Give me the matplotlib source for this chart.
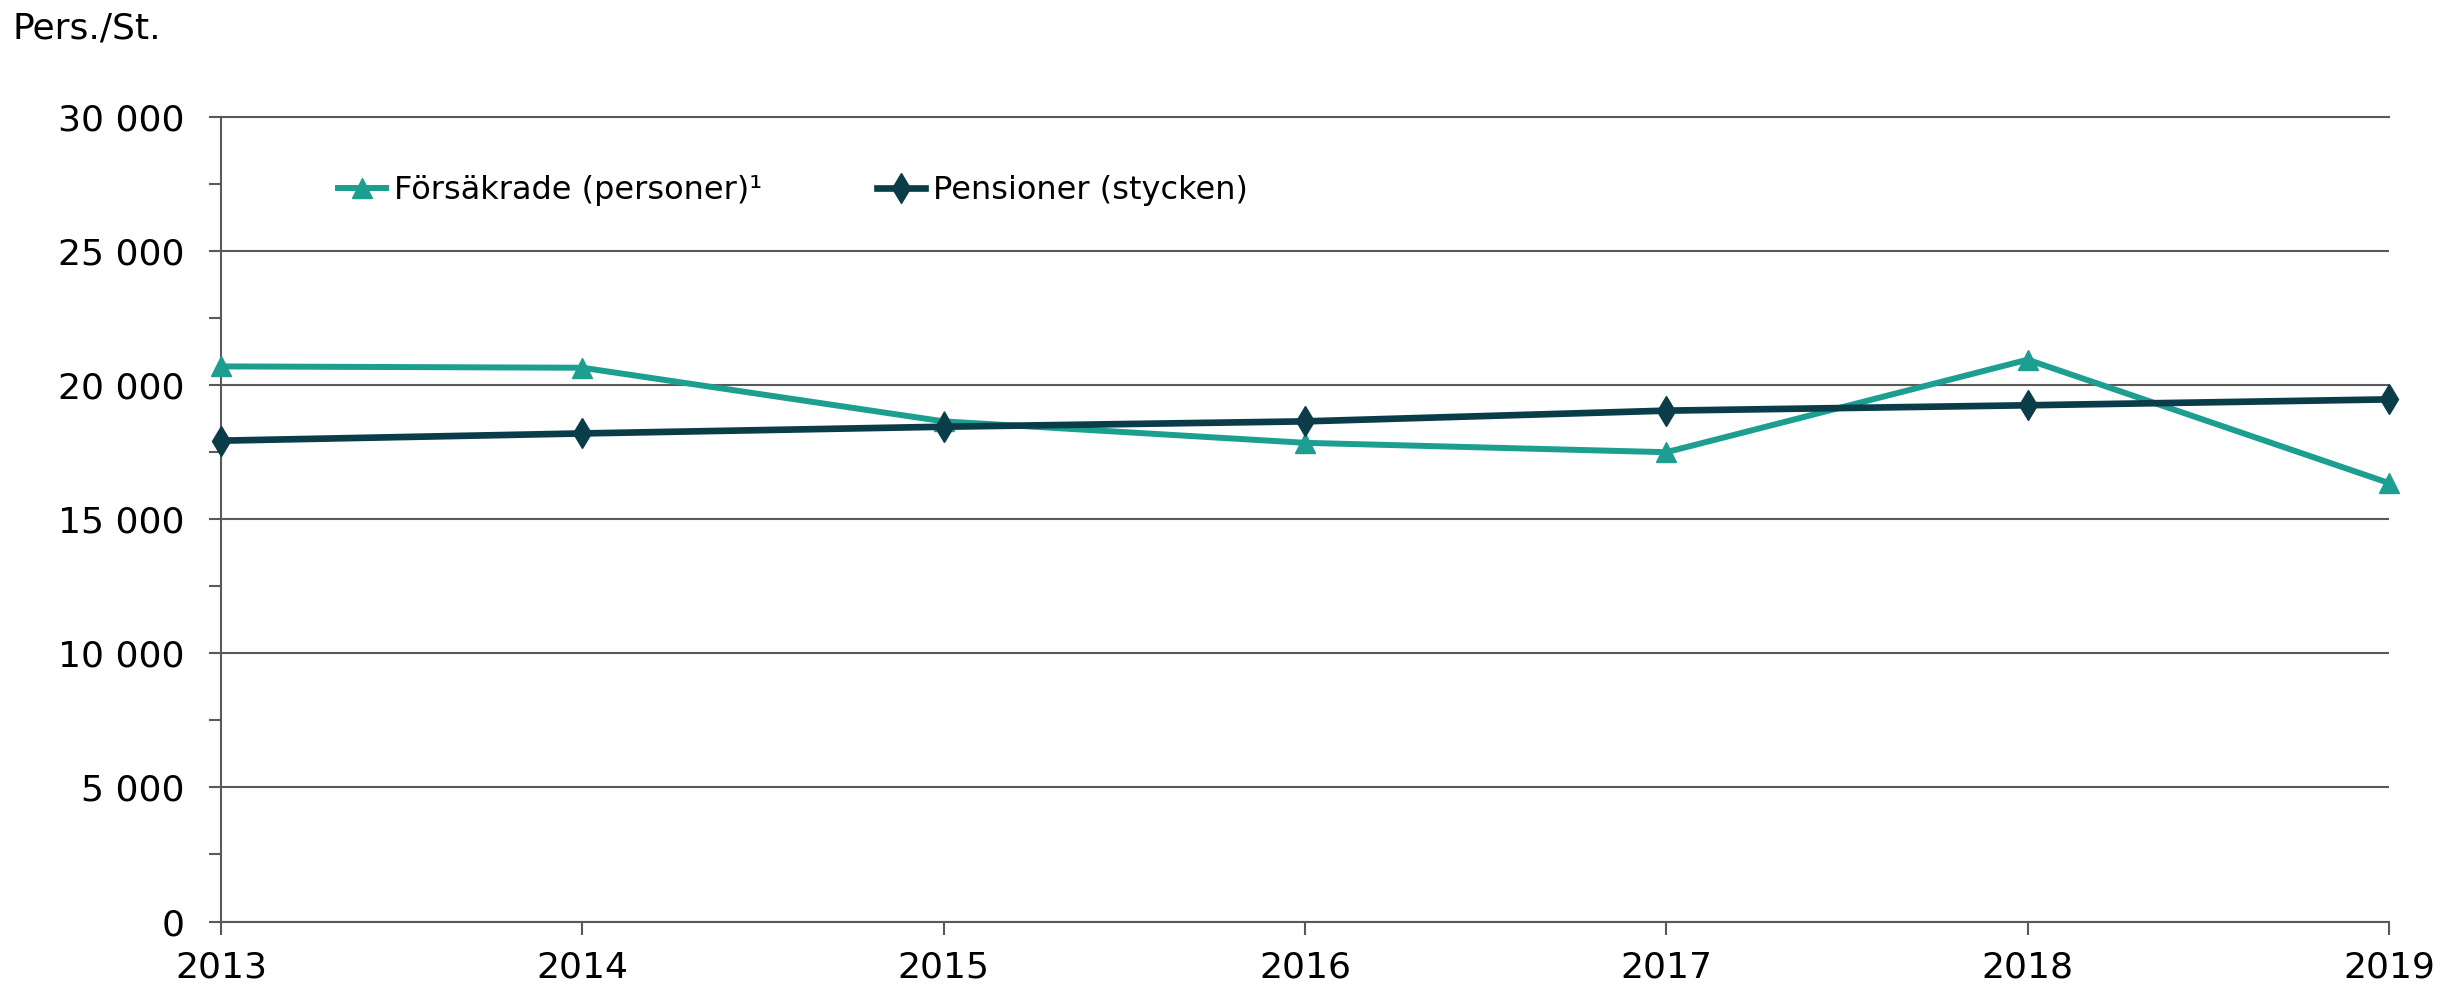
import matplotlib
matplotlib.use("Agg")
import matplotlib.pyplot as plt
from matplotlib.ticker import MultipleLocator, FuncFormatter

years = [2013, 2014, 2015, 2016, 2017, 2018, 2019]
forsakrade = [20700, 20650, 18650, 17850, 17500, 20950, 16350]
pensioner = [17930, 18200, 18450, 18650, 19050, 19250, 19470]
label_forsakrade = "Försäkrade (personer)¹"
label_pensioner = "Pensioner (stycken)"
y_label = "Pers./St."

teal = "#1C9E91"
dark = "#0B3C49"
gridc = "#595959"

plt.rcParams['font.family'] = ['DejaVu Sans']

fig = plt.figure(figsize=(24.45, 9.88), dpi=100)
ax = fig.add_axes([221/2445, 1 - 921.5/988, (2389-221)/2445, (921.5-117)/988])

ax.plot(years, forsakrade, color=teal, lw=4.3, marker='^', ms=14,
        label=label_forsakrade, clip_on=False, zorder=3)
ax.plot(years, pensioner, color=dark, lw=4.8, marker='d', ms=15,
        label=label_pensioner, clip_on=False, zorder=4)

ax.set_xlim(2013, 2019)
ax.set_ylim(0, 30000)
ax.set_xticks(years)
ax.yaxis.set_major_locator(MultipleLocator(5000))
ax.yaxis.set_minor_locator(MultipleLocator(2500))
ax.yaxis.set_major_formatter(FuncFormatter(lambda v, p: f"{int(v):,}".replace(",", " ")))

ax.grid(axis='y', which='major', color=gridc, lw=1.5)
ax.set_axisbelow(True)
ax.spines['right'].set_visible(False)
for s in ['left', 'bottom', 'top']:
    ax.spines[s].set_color(gridc)
    ax.spines[s].set_linewidth(1.5)

ax.tick_params(axis='y', which='both', direction='out', length=9, width=1.5,
               color=gridc, labelsize=26, pad=17)
ax.tick_params(axis='x', which='major', direction='out', length=9, width=1.5,
               color=gridc, labelsize=26, pad=12)

fig.text(12/2445, 1 - 12/988, y_label, fontsize=26, ha='left', va='top')

leg = ax.legend(loc='center left', bbox_to_anchor=(0.054, 0.909), ncol=2,
                frameon=False, fontsize=23, handlelength=1.5, handletextpad=0.25,
                columnspacing=3.6, borderaxespad=0, borderpad=0)

fig.savefig("out.png", dpi=100, facecolor='white')
